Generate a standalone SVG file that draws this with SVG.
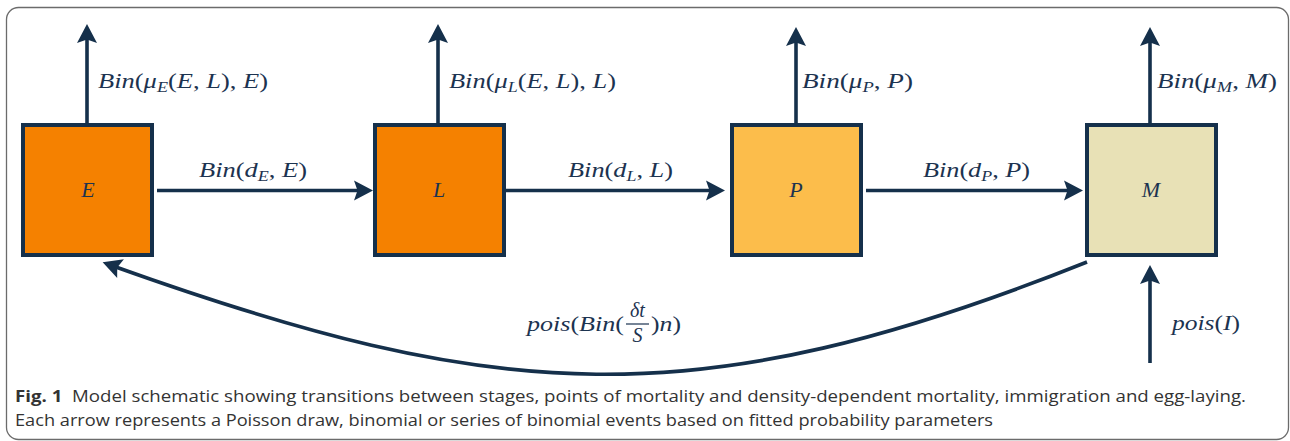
<svg xmlns="http://www.w3.org/2000/svg" width="1290" height="441" viewBox="0 0 1290 441">
<style>
.frame{fill:none;stroke:#6b6b6b;stroke-width:1.3}
.box{stroke:#15304b;stroke-width:4}
.conn{fill:none;stroke:#15304b;stroke-width:3.6}
.m{font-family:"Liberation Serif",serif;font-style:italic;font-size:22px;fill:#1c3350}
.f{font-size:20px}
.u{font-style:normal}
.s{font-size:15px}
.cap{font-family:"Open Sans","Noto Sans",sans-serif;font-size:16.5px;fill:#333333}
.b{font-weight:bold}
</style>
<defs>
<marker id="ah" markerUnits="userSpaceOnUse" markerWidth="24" markerHeight="24" viewBox="-2 -12 24 24" refX="8" refY="0" orient="auto">
<path d="M19,0 L0,-10 L3.5,0 L0,10 Z" fill="#15304b"/>
</marker>
</defs>
<rect class="frame" x="6.5" y="7.5" width="1282" height="432" rx="12"/>
<g id="connectors">
<path class="conn" marker-end="url(#ah)" d="M87,123 V35"/>
<path class="conn" marker-end="url(#ah)" d="M438,123 V35"/>
<path class="conn" marker-end="url(#ah)" d="M796,123 V38"/>
<path class="conn" marker-end="url(#ah)" d="M1150,123 V38"/>
<path class="conn" marker-end="url(#ah)" d="M157,190.5 H362"/>
<path class="conn" marker-end="url(#ah)" d="M506,190.5 H714"/>
<path class="conn" marker-end="url(#ah)" d="M866,190.5 H1072"/>
<path class="conn" marker-end="url(#ah)" d="M1150,363 V276"/>
<path class="conn" marker-end="url(#ah)" d="M1087,262 C694,419 496,403 113,266"/>
<text class="m" x="98" y="88" textLength="170" lengthAdjust="spacingAndGlyphs">Bin<tspan class="u">(</tspan>μ<tspan class="s" dy="4">E</tspan><tspan class="u" dy="-4">(</tspan>E<tspan class="u">, </tspan>L<tspan class="u">), </tspan>E<tspan class="u">)</tspan></text>
<text class="m" x="449" y="88" textLength="167" lengthAdjust="spacingAndGlyphs">Bin<tspan class="u">(</tspan>μ<tspan class="s" dy="4">L</tspan><tspan class="u" dy="-4">(</tspan>E<tspan class="u">, </tspan>L<tspan class="u">), </tspan>L<tspan class="u">)</tspan></text>
<text class="m" x="802" y="88" textLength="111" lengthAdjust="spacingAndGlyphs">Bin<tspan class="u">(</tspan>μ<tspan class="s" dy="4">P</tspan><tspan class="u" dy="-4">, </tspan>P<tspan class="u">)</tspan></text>
<text class="m" x="1157" y="88" textLength="120" lengthAdjust="spacingAndGlyphs">Bin<tspan class="u">(</tspan>μ<tspan class="s" dy="4">M</tspan><tspan class="u" dy="-4">, </tspan>M<tspan class="u">)</tspan></text>
<text class="m" x="199" y="177" textLength="108" lengthAdjust="spacingAndGlyphs">Bin<tspan class="u">(</tspan>d<tspan class="s" dy="4">E</tspan><tspan class="u" dy="-4">, </tspan>E<tspan class="u">)</tspan></text>
<text class="m" x="568" y="177" textLength="105" lengthAdjust="spacingAndGlyphs">Bin<tspan class="u">(</tspan>d<tspan class="s" dy="4">L</tspan><tspan class="u" dy="-4">, </tspan>L<tspan class="u">)</tspan></text>
<text class="m" x="923" y="177" textLength="107" lengthAdjust="spacingAndGlyphs">Bin<tspan class="u">(</tspan>d<tspan class="s" dy="4">P</tspan><tspan class="u" dy="-4">, </tspan>P<tspan class="u">)</tspan></text>
<text class="m" x="1172" y="330" textLength="68" lengthAdjust="spacingAndGlyphs">pois<tspan class="u">(</tspan>I<tspan class="u">)</tspan></text>
<text class="m" x="527" y="331" textLength="97" lengthAdjust="spacingAndGlyphs">pois<tspan class="u">(</tspan>Bin<tspan class="u">(</tspan></text>
<text class="m f" x="637.5" y="317" text-anchor="middle">δt</text>
<line x1="626" y1="324" x2="649" y2="324" stroke="#1c3350" stroke-width="1.2"/>
<text class="m f" x="637.5" y="342" text-anchor="middle">S</text>
<text class="m" x="651" y="331" textLength="30" lengthAdjust="spacingAndGlyphs"><tspan class="u">)</tspan>n<tspan class="u">)</tspan></text>
</g>
<g id="E"><rect class="box" x="23" y="125" width="129" height="130" fill="#f58100"/><text class="m" x="88" y="197" text-anchor="middle">E</text></g>
<g id="L"><rect class="box" x="375" y="125" width="129" height="130" fill="#f58100"/><text class="m" x="439" y="197" text-anchor="middle">L</text></g>
<g id="P"><rect class="box" x="732" y="125" width="129" height="130" fill="#fcbd4b"/><text class="m" x="796" y="197" text-anchor="middle">P</text></g>
<g id="M"><rect class="box" x="1087" y="125" width="129" height="130" fill="#e8e1b6"/><text class="m" x="1151" y="197" text-anchor="middle">M</text></g>
<g id="caption">
<text class="cap" x="15" y="402" textLength="1231" lengthAdjust="spacingAndGlyphs"><tspan class="b">Fig. 1</tspan>&#160;&#160;Model schematic showing transitions between stages, points of mortality and density-dependent mortality, immigration and egg-laying.</text>
<text class="cap" x="15" y="426" textLength="978" lengthAdjust="spacingAndGlyphs">Each arrow represents a Poisson draw, binomial or series of binomial events based on fitted probability parameters</text>
</g>
</svg>
